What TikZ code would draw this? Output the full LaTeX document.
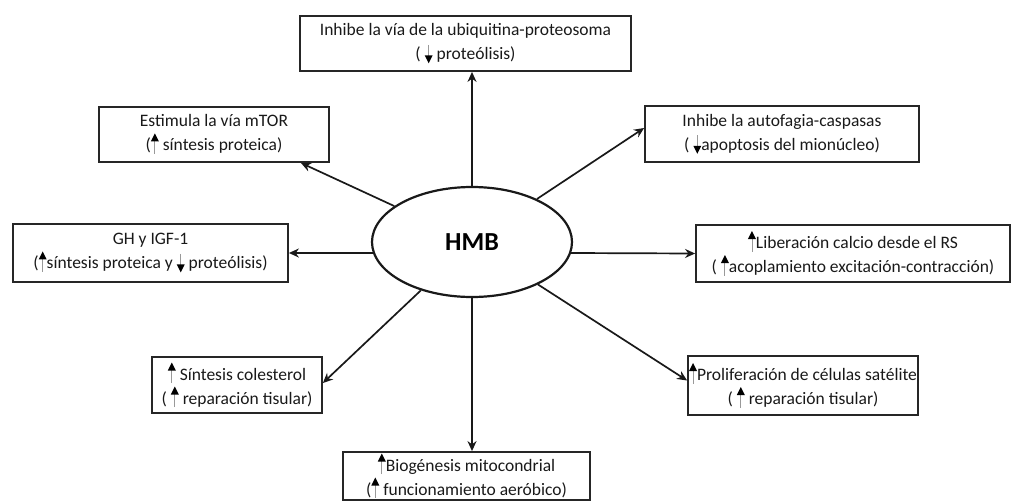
\documentclass[tikz,border=0pt]{standalone}
\usepackage{fontspec}
\setmainfont{Carlito}
\usetikzlibrary{arrows.meta,shapes.geometric}

% small inline arrows: grey stem, black head
\newcommand\upa{\tikz[baseline=0pt]{\draw[black!40,line width=0.9pt] (0pt,-3pt)--(0pt,11pt);\fill[black] (-4pt,9.5pt)--(4pt,9.5pt)--(0pt,17.5pt)--cycle;}}
\newcommand\dna{\tikz[baseline=0pt]{\draw[black!40,line width=0.9pt] (0pt,15pt)--(0pt,3pt);\fill[black] (-4pt,4.5pt)--(4pt,4.5pt)--(0pt,-3.5pt)--cycle;}}

\begin{document}
\begin{tikzpicture}[x=1pt,y=-1pt,
  effect/.style={draw=black!85,line width=1.8pt,rectangle,align=center,inner sep=0pt,
    text=black!90,font=\fontsize{17.5}{24}\selectfont},
  hub/.style={draw=black!90,line width=2.2pt,ellipse,inner sep=0pt,
    minimum width=200pt,minimum height=110pt,font=\fontsize{26}{30}\selectfont\bfseries},
  link/.style={draw=black!90,line width=1.7pt,-{Stealth[length=10pt,width=9pt]}}]
\useasboundingbox (0,0) rectangle (1021,501);

\node[hub] (hmb) at (472,242) {HMB};

\node[effect,minimum width=331pt,minimum height=55pt] (ubq) at (465.5,43.5)
  {Inhibe la vía de la ubiquitina-proteosoma\\( \dna\ proteólisis)};
\node[effect,minimum width=230pt,minimum height=55pt] (mtor) at (214,134.5)
  {Estimula la vía mTOR\\(\upa\ síntesis proteica)};
\node[effect,minimum width=274pt,minimum height=56pt] (auto) at (782,134)
  {Inhibe la autofagia-caspasas\\( \dna apoptosis del mionúcleo)};
\node[effect,minimum width=275pt,minimum height=58pt] (gh) at (150.5,253)
  {GH y IGF-1\\(\upa síntesis proteica y \dna\ proteólisis)};
\node[effect,minimum width=314pt,minimum height=57pt] (calc) at (853,253.5)
  {\upa Liberación calcio desde el RS\\( \upa acoplamiento excitación-contracción)};
\node[effect,minimum width=170pt,minimum height=56pt] (chol) at (237,385)
  {\upa\ Síntesis colesterol\\( \upa\ reparación tisular)};
\node[effect,minimum width=230pt,minimum height=59pt] (prol) at (803,385.5)
  {\upa Proliferación de células satélite\\( \upa\ reparación tisular)};
\node[effect,minimum width=247pt,minimum height=48pt] (bio) at (466.5,476)
  {\upa Biogénesis mitocondrial\\(\upa\ funcionamiento aeróbico)};

\draw[link] (hmb.north) -- (hmb.north |- ubq.south);
\draw[link] (hmb) -- ([xshift=-29pt]mtor.south east);
\draw[link] (hmb) -- ([yshift=6pt]auto.west);
\draw[link] ([shift={(2pt,-11pt)}]hmb.west) -- (gh.east);
\draw[link] ([shift={(-2pt,-11pt)}]hmb.east) -- (calc.west);
\draw[link] (hmb) -- ([yshift=2pt]chol.east);
\draw[link] (hmb) -- ([yshift=5pt]prol.west);
\draw[link] (hmb.south) -- (hmb.south |- bio.north);
\end{tikzpicture}
\end{document}
